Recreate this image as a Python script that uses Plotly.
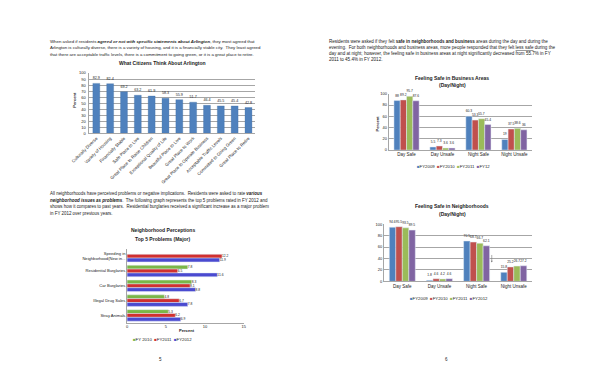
import plotly.graph_objects as go

# ---------------- data ----------------
opinion_cats = ["Culturally Diverse", "Variety of Housing", "Financially Stable", "Safe Place to Live",
                "Great Place to Raise Children", "Exceptional Quality of Life", "Beautiful Place to Live",
                "Great Place to Work", "Great Place to Operate Business", "Acceptable Traffic Levels",
                "Committed to Going Green", "Great Place to Retire"]
opinion_vals = [82.9, 82.4, 69.2, 63.2, 61.9, 58.3, 55.9, 51.7, 46.4, 45.5, 45.4, 42.8]

safety_cats = ["Day Safe", "Day Unsafe", "Night Safe", "Night Unsafe"]
business_series = ["FY2009", "FY2010", "FY2011", "FY12"]
business_vals = [
    [88, 5.5, 60.3, 19],
    [89.2, 7.3, 53.3, 37.5],
    [95.7, 3.6, 55.7, 38.6],
    [87.6, 3.6, 45.4, 36],
]
neigh_series = ["FY2009", "FY2010", "FY2011", "FY2012"]
neigh_vals = [
    [94.6, 1.8, 70.5, 15.8],
    [95.5, 4.6, 68.7, 25.2],
    [93.5, 4.2, 66.7, 26.7],
    [89.5, 4.6, 62.1, 27.2],
]

problem_cats = ["Speeding in<br>Neighborhood(New in...", "Residential Burglaries", "Car Burglaries",
                "Illegal Drug Sales", "Stray Animals"]
problem_series = ["FY 2010", "FY2011", "FY2012"]
problem_vals = [
    [None, 7.8, 8.3, 4.8, 5.3],
    [12.2, 6.5, 8.1, 6.7, 6.2],
    [11.9, 11.6, 8.8, 7.8, 6.9],
]

four_colors = ["#4F81BD", "#C0504D", "#9BBB59", "#8064A2"]
problem_colors = ["#7AB648", "#D03030", "#4A4AD0"]

FONT = "Liberation Sans"
W, H = 600, 388


def px(x):
    return x / W


def py(y):
    return 1 - y / H


def lbl(v):
    return "" if v is None else f"{v:g}"


fig = go.Figure()

# ---------- chart 1 ----------
fig.add_trace(go.Bar(x=opinion_cats, y=opinion_vals, marker_color="#4F81BD",
                     marker_line=dict(color="#3A6AA0", width=0.3), width=0.5,
                     text=[lbl(v) for v in opinion_vals], textposition="outside",
                     textfont=dict(size=3.7, color="#222"), constraintext="none", cliponaxis=False,
                     xaxis="x", yaxis="y", showlegend=False))

# ---------- chart 2 ----------
GW4 = 0.175
for i, (name, vals, col) in enumerate(zip(business_series, business_vals, four_colors)):
    fig.add_trace(go.Bar(x=safety_cats, y=vals, name=name, marker_color=col,
                         width=GW4, offset=-2 * GW4 + i * GW4,
                         text=[lbl(v) for v in vals], textposition="outside",
                         textfont=dict(size=3.3, color="#222"), constraintext="none", cliponaxis=False,
                         xaxis="x2", yaxis="y2", showlegend=False))

# ---------- chart 3 ----------
GW3 = 0.26
for i, (name, vals, col) in enumerate(zip(problem_series, problem_vals, problem_colors)):
    fig.add_trace(go.Bar(y=problem_cats, x=vals, name=name, orientation="h", marker_color=col,
                         width=GW3, offset=-1.5 * GW3 + i * GW3,
                         text=[lbl(v) for v in vals], textposition="outside",
                         textfont=dict(size=3.3, color="#222"), constraintext="none", cliponaxis=False,
                         xaxis="x3", yaxis="y3", showlegend=False))

# ---------- chart 4 ----------
for i, (name, vals, col) in enumerate(zip(neigh_series, neigh_vals, four_colors)):
    fig.add_trace(go.Bar(x=safety_cats, y=vals, name=name, marker_color=col,
                         width=GW4, offset=-2 * GW4 + i * GW4,
                         text=[lbl(v) for v in vals], textposition="outside",
                         textfont=dict(size=3.3, color="#222"), constraintext="none", cliponaxis=False,
                         xaxis="x4", yaxis="y4", showlegend=False))

grid = "#A6A6A6"
tf = dict(size=4.0, color="#222", family=FONT)

fig.update_layout(
    width=W, height=H, margin=dict(l=0, r=0, t=0, b=0),
    paper_bgcolor="white", plot_bgcolor="white",
    font=dict(family=FONT, color="#222"),
    barmode="group",
    xaxis=dict(domain=[px(74), px(246)], anchor="y", tickangle=-45,
               tickfont=dict(size=4.4, color="#222", family=FONT),
               showline=True, linecolor=grid, linewidth=0.6, ticks=""),
    yaxis=dict(domain=[py(132), py(71)], anchor="x", range=[0, 100], dtick=10, tickfont=tf,
               showgrid=True, gridcolor=grid, gridwidth=0.5, showline=True, linecolor=grid, linewidth=0.6,
               zeroline=False, ticks="", ticklabelstandoff=2),
    xaxis2=dict(domain=[px(384), px(533)], anchor="y2", tickfont=dict(size=4.5, color="#222", family=FONT),
                showline=True, linecolor=grid, linewidth=0.6, ticks=""),
    yaxis2=dict(domain=[py(149), py(92)], anchor="x2", range=[0, 100], dtick=20, tickfont=tf,
                showgrid=True, gridcolor=grid, gridwidth=0.5, showline=True, linecolor=grid, linewidth=0.6,
                zeroline=False, ticks=""),
    xaxis3=dict(domain=[px(113), px(234)], anchor="y3", range=[0, 15], dtick=5, tickfont=tf,
                showgrid=False, showline=True, linecolor=grid, linewidth=0.6, zeroline=False, ticks=""),
    yaxis3=dict(domain=[py(324), py(249)], anchor="x3", autorange="reversed",
                tickfont=dict(size=4.1, color="#222", family=FONT),
                showline=True, linecolor=grid, linewidth=0.6, ticks=""),
    xaxis4=dict(domain=[px(379), px(533)], anchor="y4", tickfont=dict(size=4.5, color="#222", family=FONT),
                showline=True, linecolor=grid, linewidth=0.6, ticks=""),
    yaxis4=dict(domain=[py(282), py(224)], anchor="x4", range=[0, 100], dtick=20, tickfont=tf,
                showgrid=True, gridcolor=grid, gridwidth=0.5, showline=True, linecolor=grid, linewidth=0.6,
                zeroline=False, ticks=""),
)

ann = []


def text(x, y, s, size=4.6, xanchor="left", bold=False, angle=0):
    if bold:
        s = "<b>" + s + "</b>"
    ann.append(dict(x=px(x), y=py(y), xref="paper", yref="paper", text=s, showarrow=False,
                    xanchor=xanchor, yanchor="middle", textangle=angle,
                    font=dict(size=size, color="#222", family=FONT)))


# left paragraph 1
left1 = [
    "When asked if residents <b><i>agreed or not with specific statements about Arlington</i></b>, they most agreed that",
    "Arlington is culturally diverse, there is a variety of housing, and it is a financially stable city.  They least agreed",
    "that there are acceptable traffic levels, there is a commitment to going green, or it is a great place to retire.",
]
for i, s in enumerate(left1):
    text(31, 39 + i * 6.5, s, size=4.35)

# left paragraph 2
left2 = [
    "All neighborhoods have perceived problems or negative implications.  Residents were asked to rate <b><i>various</i></b>",
    "<b><i>neighborhood issues as problems</i></b>.  The following graph represents the top 5 problems rated in FY 2012 and",
    "shows how it compares to past years.  Residential burglaries received a significant increase as a major problem",
    "in FY 2012 over previous years.",
]
for i, s in enumerate(left2):
    text(31, 193 + i * 6.7, s, size=4.45)

# right paragraph
right1 = [
    "Residents were asked if they felt <b>safe in neighborhoods and business</b> areas during the day and during the",
    "evening.  For both neighborhoods and business areas, more people responded that they felt <span style='text-decoration:underline'>less safe</span> during the",
    "day and at night; however, the feeling safe in business areas at night significantly decreased from 55.7% in FY",
    "2011 to 45.4% in FY 2012.",
]
for i, s in enumerate(right1):
    text(320, 39 + i * 6.2, s, size=4.55)

# chart titles
TS = 5.0
text(150, 61, "What Citizens Think About Arlington", size=TS, xanchor="center", bold=True)
text(450, 76, "Feeling Safe in Business Areas", size=TS, xanchor="center", bold=True)
text(450, 83.5, "(Day/Night)", size=TS, xanchor="center", bold=True)
text(150, 230, "Neighborhood Perceptions", size=TS, xanchor="center", bold=True)
text(150, 239, "Top 5 Problems (Major)", size=TS, xanchor="center", bold=True)
text(450, 206, "Feeling Safe in Neighborhoods", size=TS, xanchor="center", bold=True)
text(450, 213.5, "(Day/Night)", size=TS, xanchor="center", bold=True)

# axis titles
text(59, 98, "Percent", size=4.1, xanchor="center", bold=True, angle=-90)
text(372, 122, "Percent", size=4.1, xanchor="center", bold=True, angle=-90)
text(175, 332, "Percent", size=4.1, xanchor="center", bold=True)


# legends
def legend_str(names, colors):
    return "  ".join(f"<span style='color:{c}'>■</span>{n}" for n, c in zip(names, colors))


text(451, 166, legend_str(business_series, four_colors), size=4.3, xanchor="center")
text(447, 299, legend_str(neigh_series, four_colors), size=4.3, xanchor="center")
text(117, 341, legend_str(problem_series, problem_colors), size=4.3, xanchor="left")

# page numbers
text(148, 361, "5", size=4.5, xanchor="center")
text(444, 361, "6", size=4.5, xanchor="center")

# small arrow in neighborhood chart
ann.append(dict(x="Night Unsafe", y=33, xref="x4", yref="y4", ax=0, ay=-9, showarrow=True,
                arrowhead=2, arrowsize=0.6, arrowwidth=0.6, arrowcolor="#777", text="",
                xshift=-22))

fig.update_layout(annotations=ann)
fig.write_html("out.html", config={"displayModeBar": False},
               post_script="document.body.style.margin='0';")
